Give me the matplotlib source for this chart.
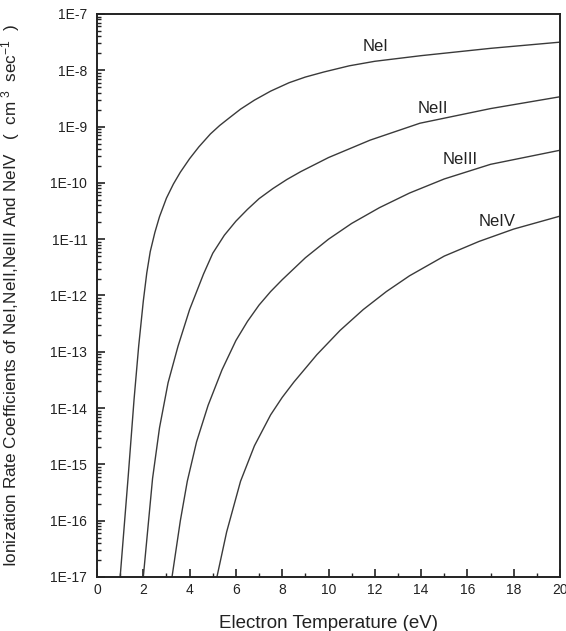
import matplotlib
matplotlib.use("Agg")
import matplotlib.pyplot as plt
from matplotlib.ticker import LogLocator, NullFormatter, FixedLocator, MultipleLocator

plt.rcParams['font.family'] = ['Liberation Sans', 'DejaVu Sans']
plt.rcParams['mathtext.fontset'] = 'custom'
plt.rcParams['mathtext.rm'] = 'Liberation Sans'
plt.rcParams['mathtext.it'] = 'Liberation Sans:italic'

# Electron temperature (eV) and log10 of rate coefficient (cm^3 s^-1)
nei_T = [1.0, 1.35, 1.6, 1.8, 2.0, 2.15, 2.3, 2.5, 2.7, 3.0, 3.3, 3.6, 4.0, 4.4, 4.9, 5.3, 5.7, 6.2, 6.8, 7.5, 8.3, 9.0, 9.8, 10.9, 12.0, 14.0, 17.0, 20.0]
nei_log = [-17.0, -15.2, -13.85, -12.9, -12.1, -11.6, -11.22, -10.88, -10.6, -10.27, -10.02, -9.81, -9.57, -9.36, -9.13, -8.98, -8.85, -8.69, -8.53, -8.37, -8.22, -8.12, -8.03, -7.92, -7.84, -7.74, -7.61, -7.5]

neii_T = [2.0, 2.4, 2.7, 3.07, 3.5, 4.0, 4.6, 5.0, 5.5, 6.0, 6.5, 7.0, 7.6, 8.2, 8.8, 10.0, 11.8, 13.95, 17.0, 20.0]
neii_log = [-17.0, -15.25, -14.35, -13.55, -12.9, -12.25, -11.62, -11.25, -10.93, -10.68, -10.47, -10.28, -10.1, -9.94, -9.8, -9.55, -9.24, -8.94, -8.68, -8.47]

neiii_T = [3.24, 3.6, 3.9, 4.3, 4.8, 5.4, 6.0, 6.5, 7.0, 7.5, 8.0, 9.0, 10.0, 11.0, 12.2, 13.5, 15.0, 17.0, 20.0]
neiii_log = [-17.0, -16.0, -15.3, -14.6, -13.95, -13.32, -12.8, -12.46, -12.17, -11.93, -11.72, -11.33, -11.0, -10.72, -10.44, -10.18, -9.93, -9.67, -9.42]

neiv_T = [5.18, 5.6, 6.2, 6.8, 7.5, 8.0, 8.5, 9.5, 10.5, 11.5, 12.5, 13.5, 15.0, 16.5, 18.0, 20.0]
neiv_log = [-17.0, -16.2, -15.3, -14.67, -14.12, -13.81, -13.54, -13.05, -12.62, -12.25, -11.93, -11.65, -11.3, -11.04, -10.82, -10.59]

series_names = ['NeI', 'NeII', 'NeIII', 'NeIV']
label_T = [12.05, 14.5, 15.7, 17.3]
label_log = [-7.57, -8.67, -9.58, -10.68]

y_ticks_exp = [-17, -16, -15, -14, -13, -12, -11, -10, -9, -8, -7]
x_ticks = [0, 2, 4, 6, 8, 10, 12, 14, 16, 18, 20]

fig = plt.figure(figsize=(5.66, 6.31), dpi=100)
ax = fig.add_axes([97/566, 1 - 577/631, (560 - 97)/566, (577 - 14)/631])

curves = [(nei_T, nei_log), (neii_T, neii_log), (neiii_T, neiii_log), (neiv_T, neiv_log)]
for T, lg in curves:
    ax.plot(T, [10.0 ** v for v in lg], color='#3a3a3a', lw=1.0,
            solid_joinstyle='round')

for name, tx, ty in zip(series_names, label_T, label_log):
    ax.text(tx, 10.0 ** ty, name, fontsize=12, color='#222222', ha='center', va='center')

ax.set_yscale('log')
ax.set_xlim(0, 20)
ax.set_ylim(1e-17, 1e-7)

ax.yaxis.set_major_locator(FixedLocator([10.0 ** e for e in y_ticks_exp]))
ax.set_yticklabels([f'1E{e}' for e in y_ticks_exp])
ax.yaxis.set_minor_locator(LogLocator(base=10, subs=range(2, 10), numticks=20))
ax.yaxis.set_minor_formatter(NullFormatter())

ax.set_xticks(x_ticks)
ax.set_xticklabels([str(v) for v in x_ticks])
ax.xaxis.set_minor_locator(MultipleLocator(1))

ax.tick_params(axis='both', which='major', direction='in', length=6, width=1.2,
               labelsize=10, color='#222222', labelcolor='#222222')
ax.tick_params(axis='both', which='minor', direction='in', length=3, width=1.0, color='#222222')
ax.tick_params(axis='y', which='major', pad=7)
ax.tick_params(axis='x', which='major', pad=4)
ax.tick_params(top=False, right=False, which='both')

for s in ax.spines.values():
    s.set_linewidth(1.4)
    s.set_color('#222222')

ax.set_xlabel('Electron Temperature (eV)', fontsize=13.5, color='#222222')
ax.xaxis.set_label_coords(0.5, -0.068)
ax.set_ylabel('Ionization Rate Coefficients of NeI,NeII,NeIII And NeIV   (  cm$^{\\ 3}$  sec$^{-1}$  )',
              fontsize=12.3, color='#222222')
ax.yaxis.set_label_coords(-0.162, 0.5)

fig.savefig('out.png', dpi=100)
